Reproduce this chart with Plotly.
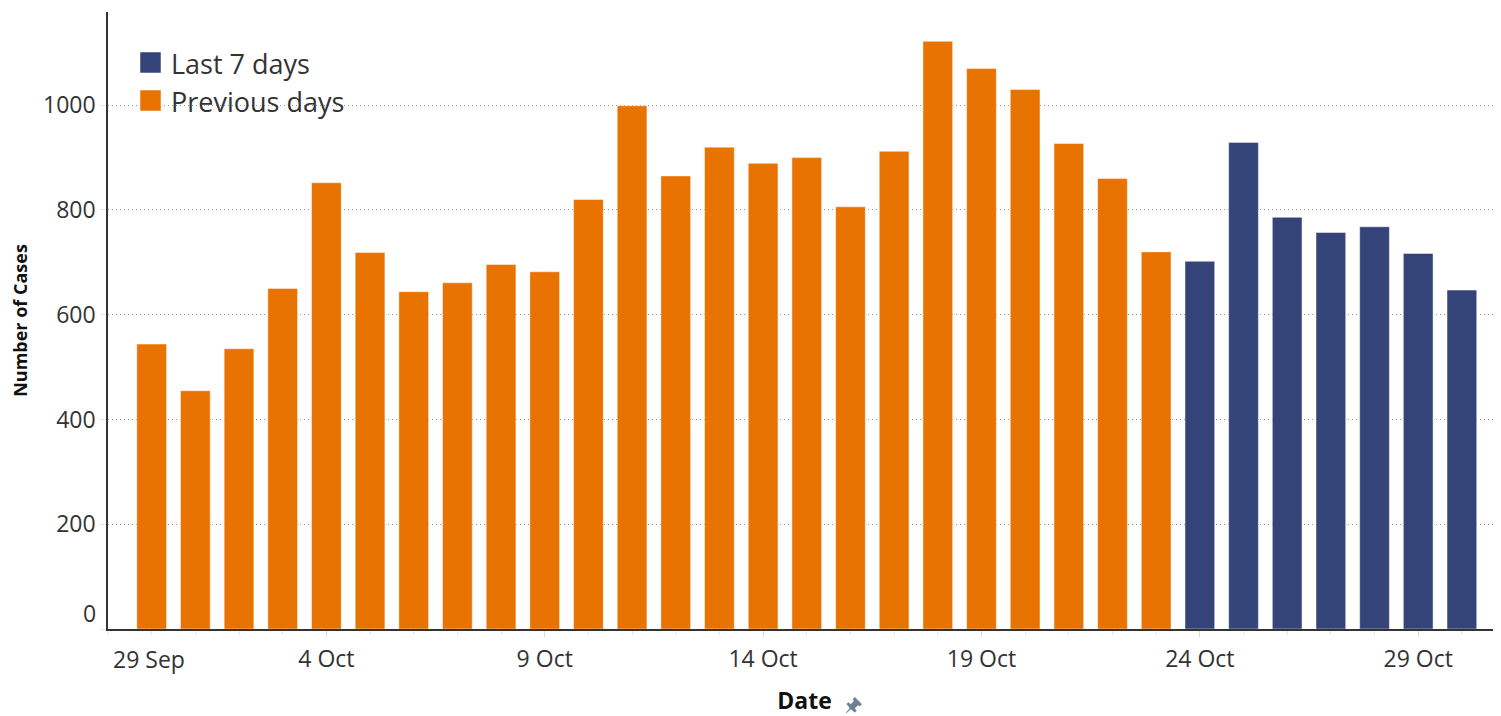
import math
import plotly.graph_objects as go
import pandas as pd

# ---- data ----
previous_dates = pd.date_range("2020-09-30", "2020-10-23", freq="D")
previous_values = [544, 455, 535, 650, 852, 719, 644, 661, 696, 682, 820, 999,
                   865, 920, 889, 900, 806, 912, 1122, 1070, 1030, 927, 860, 720]
last7_dates = pd.date_range("2020-10-24", "2020-10-30", freq="D")
last7_values = [702, 929, 786, 757, 768, 717, 647]

series_names = ["Last 7 days", "Previous days"]
series_colors = ["#344479", "#E87300"]

tick_dates = ["2020-09-29", "2020-10-04", "2020-10-09", "2020-10-14",
              "2020-10-19", "2020-10-24", "2020-10-29"]
tick_labels = ["29 Sep", "4 Oct", "9 Oct", "14 Oct", "19 Oct", "24 Oct", "29 Oct"]
y_ticks = [0, 200, 400, 600, 800, 1000]

# ---- layout constants (page has an 8px body margin) ----
OFF = 8
W, H = 1493, 708
ML, MR, MT, MB = 100, 0, 4, 87
PW, PH = W - ML - MR, H - MT - MB
FONT = "Open Sans"
DAY_MS = 86400000
TXT = "#333333"


def px_x(p):
    return (p - OFF - ML) / PW


def px_y(p):
    return (OFF + H - MB - p) / PH


fig = go.Figure()
fig.add_trace(go.Bar(x=previous_dates, y=previous_values, name=series_names[1],
                     marker=dict(color=series_colors[1],
                                 line=dict(color="rgba(255,255,255,0.45)", width=1)),
                     width=0.68 * DAY_MS, showlegend=False))
fig.add_trace(go.Bar(x=last7_dates, y=last7_values, name=series_names[0],
                     marker=dict(color=series_colors[0],
                                 line=dict(color="rgba(255,255,255,0.45)", width=1)),
                     width=0.68 * DAY_MS, showlegend=False))

# manual legend (large squares like the reference)
legend_rows = [(52, 73, 64), (90, 111, 102)]
for (top, bot, mid), name, col in zip(legend_rows, series_names, series_colors):
    fig.add_shape(type="rect", xref="paper", yref="paper",
                  x0=px_x(140), x1=px_x(161), y0=px_y(bot), y1=px_y(top),
                  fillcolor=col, line=dict(color="rgba(255,255,255,0.5)", width=1))
    fig.add_annotation(xref="paper", yref="paper", x=px_x(169), y=px_y(mid),
                       xanchor="left", yanchor="middle", showarrow=False,
                       text=name, font=dict(family=FONT, size=27, color=TXT))

# first date label, pushed inside like the reference
fig.add_annotation(xref="x", yref="paper", x=tick_dates[0], y=px_y(659),
                   xanchor="left", yanchor="middle", xshift=3, showarrow=False,
                   text=tick_labels[0], font=dict(family=FONT, size=23, color=TXT))
# zero label lifted above the baseline
fig.add_annotation(xref="paper", yref="y", x=0, y=y_ticks[0], xanchor="right",
                   yanchor="middle", xshift=-10, yshift=16, showarrow=False,
                   text=str(y_ticks[0]), font=dict(family=FONT, size=23, color=TXT))

# pin icon next to "Date" (decoration)
pin_local = [(0, 0), (0.6, 6), (5.5, 6.5), (5.5, 8.5), (2.6, 9), (2.6, 13.5),
             (4.6, 14), (4.6, 16.5), (-4.6, 16.5), (-4.6, 14), (-2.6, 13.5),
             (-2.6, 9), (-5.5, 8.5), (-5.5, 6.5), (-0.6, 6)]
c, s, k = math.cos(math.radians(45)), math.sin(math.radians(45)), 1.05
pin = [(846 + k * (x * c + y * s), 713 - k * (-x * s + y * c)) for x, y in pin_local]
path = "M " + " L ".join(f"{px_x(a):.5f},{px_y(b):.5f}" for a, b in pin) + " Z"
fig.add_shape(type="path", xref="paper", yref="paper", path=path,
              fillcolor="#6f7f93", line=dict(color="#6f7f93", width=0.5))

fig.update_layout(
    width=W, height=H,
    margin=dict(l=ML, r=MR, t=MT, b=MB, pad=0),
    paper_bgcolor="white", plot_bgcolor="white",
    barmode="overlay",
    font=dict(family=FONT, size=23, color=TXT),
    showlegend=False,
)
fig.update_xaxes(
    type="date",
    range=["2020-09-29 00:00", "2020-10-30 21:30"],
    tickmode="array", tickvals=tick_dates[1:], ticktext=tick_labels[1:],
    ticks="outside", ticklen=6, tickcolor="#d9d9d9", tickwidth=1,
    ticklabelstandoff=3,
    minor=dict(dtick=DAY_MS, tick0="2020-09-29", ticks="outside", ticklen=4,
               tickcolor="#e6e6e6", tickwidth=1, showgrid=False),
    showline=True, linecolor="#333333", linewidth=1.5,
    showgrid=False, zeroline=False,
    tickfont=dict(family=FONT, size=23, color=TXT),
    title=dict(text="<b>Date</b>", font=dict(family=FONT, size=23, color="#111111"),
               standoff=22),
)
fig.update_yaxes(
    range=[0, 1178],
    tickmode="array", tickvals=y_ticks,
    ticktext=[""] + [str(v) for v in y_ticks[1:]],
    ticks="outside", ticklen=6, tickcolor="#e6e6e6",
    showline=True, linecolor="#333333", linewidth=1.5,
    showgrid=True, gridcolor="#999999", griddash="1px,3px", gridwidth=1,
    zeroline=False,
    tickfont=dict(family=FONT, size=23, color=TXT),
    title=dict(text="<b>Number of Cases</b>",
               font=dict(family=FONT, size=18, color="#111111"), standoff=12),
)

fig.write_html("out.html")
